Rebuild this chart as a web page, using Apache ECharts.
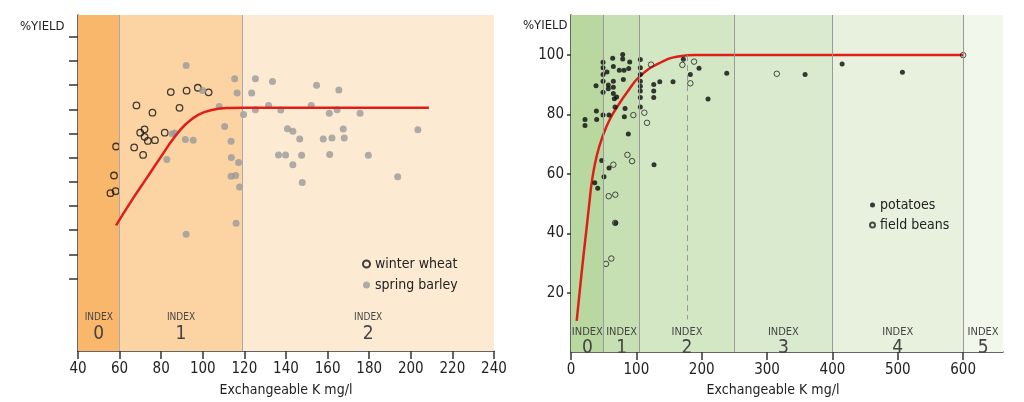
<!DOCTYPE html>
<html>
<head>
<meta charset="utf-8">
<script src="https://cdn.jsdelivr.net/npm/echarts@6/dist/echarts.min.js"></script>
<style>
html,body{margin:0;padding:0;background:#fff;}
#c{width:1024px;height:402px;}
</style>
</head>
<body>
<div id="c"></div>
<script>
// ---------- DATA ----------
// Left chart: cereals
const leftXTicks = [40, 60, 80, 100, 120, 140, 160, 180, 200, 220, 240];
const leftYTicks = [30, 40, 50, 60, 70, 80, 90, 100, 110, 120, 130];
const leftBandEdges = [40, 60, 119, 240];
const leftIndexNames = ['0', '1', '2'];
const winterWheat = [
  [58.3,84.6],[57.3,72.6],[55.6,65.3],[58.1,66.1],[68.1,101.6],[75.8,98.6],[67,84.2],
  [71.3,81.1],[69.9,90.3],[72.0,91.7],[72.0,88.6],[73.6,86.9],[77.0,87.2],[81.7,90.3],
  [84.6,107.1],[88.8,100.6],[92.2,107.7],[97.6,108.9],[102.8,107]
];
const springBarley = [
  [92,118.1],[85.3,89.9],[86.6,90.2],[91.6,87.5],[95.4,87.2],[82.7,79.2],[99.9,107.8],
  [107.9,101.1],[115.3,112.6],[116.5,106.7],[123.5,106.7],[125.3,112.6],[119.6,97.8],
  [110.5,92.9],[113.6,86.8],[113.7,80.1],[117.2,78],[113.6,72.3],[115.8,72.6],[117.7,67.8],
  [125.3,99.8],[92.0,48.3],[116,52.8],
  [133.5,111.5],[154.7,109.9],[165.4,108],[131.6,101.6],[137.5,99.7],[152.1,101.6],
  [160.8,98.4],[164.6,99.8],[175.6,98.4],[140.7,91.9],[143.3,90.9],[146.6,87.7],
  [157.9,87.7],[162.1,88.1],[167.5,91.8],[168.0,88.1],[203.4,91.5],[136.4,81.1],
  [139.8,81.1],[147.5,81],[161,81.3],[179.6,81],[143.3,77.1],[193.7,72.1],[147.8,69.7]
];
const leftCurve = [
  [58.3,52],[66,62.5],[73,71.5],[80,80.5],[86,88],[92,94],[98,97.8],[104.4,99.7],
  [112.4,100.5],[120,100.6],[140,100.6],[170,100.6],[208.7,100.6]
];

// Right chart: potatoes / field beans
const rightXTicks = [0, 100, 200, 300, 400, 500, 600];
const rightYTicks = [20, 40, 60, 80, 100];
const rightBandEdges = [0, 50, 105, 250, 400, 600, 661];
const rightIndexNames = ['0', '1', '2', '3', '4', '5'];
const rightDashed = [[178, 100], [178, 11]];
const potatoes = [
  [21.4,78.3],[21.4,76.3],[38.3,89.7],[38.8,81.2],[39.3,78.3],
  [49,97.6],[49,95.7],[49,93.5],[49,91.2],[55.1,94.3],[49,87.5],[49,79.8],
  [57.1,89.9],[57.1,88.7],[58.2,79.8],
  [63.8,98.9],[64.8,96.2],[64.8,91.2],[64.8,89.2],[64.8,87.1],[66.3,85.3],[69.9,85.9],[67.4,82.5],
  [73.9,94.9],[81.1,94.9],[88.3,95.5],[79.1,100.2],[79.1,98.7],[89.8,97.7],[80.1,91.8],
  [82.7,82],[81.6,79.2],[87.7,73.4],
  [106.1,98.5],[106.1,95.7],[106.1,93.5],[106.1,91.2],[106.1,89.5],[106.1,87.9],[106.1,85.7],[106.1,82.5],
  [126.6,90.1],[126.6,87.9],[126.6,85.7],[135.8,91],[156.1,91],
  [127,63.1],[171.9,98.6],[182.6,93.5],[195.9,95.6],[209.7,85.2],[238.3,93.9],
  [47,64.5],[58.2,62],[50.5,59],[36.3,57],[40.9,55.2],[68.4,43.5],
  [358.2,93.5],[414.8,97],[507.1,94.2]
];
const fieldBeans = [
  [122.5,96.8],[95.4,79.8],[112.2,80.6],[116.3,77.2],[170.4,96.7],[188.3,97.8],[182.6,90.5],
  [86.3,66.4],[93.4,64.3],[64.8,63.1],[57.7,52.5],[67.8,53],[53.6,29.7],[61.7,31.5],
  [314.9,93.7],[600,100],[67.5,43.5]
];
const rightCurve = [
  [8.7,10.5],[16.4,27],[24,42],[28,50],[32,57.5],[39.3,66],[49,73],[59.7,78.5],[72,83],
  [85.3,87.3],[105.6,92.9],[136.2,97.4],[166.8,99.6],[190,100],[250,100],[400,100],[600,100]
];

// ---------- STYLE ----------
const FF = "'Liberation Sans Narrow','DejaVu Sans Condensed','Roboto Condensed',sans-serif";
const leftBandColors = ['#F9B76B', '#FCD4A4', '#FDEAD3'];
const rightBandColors = ['#B8D8A0', '#C7E0B3', '#D3E7C5', '#DAEACE', '#E7F1DD', '#F2F7EC'];
const axisColor = '#333';
const textColor = '#222';

function bandAreas(edges, colors) {
  const out = [];
  for (let i = 0; i < edges.length - 1; i++) {
    out.push([{ xAxis: edges[i], itemStyle: { color: colors[i] } }, { xAxis: edges[i + 1] }]);
  }
  return out;
}
function dividers(edges) {
  return edges.slice(1, -1).map(v => ({ xAxis: v }));
}
function indexPoints(edges, names, y) {
  return names.map((n, i) => [(edges[i] + edges[i + 1]) / 2, y, n]);
}
const idxRich = (small, smallLH, big) => ({
  a: { fontSize: small, color: '#444', fontFamily: FF, lineHeight: smallLH, align: 'center' },
  b: { fontSize: big, color: '#444', fontFamily: FF, lineHeight: big, align: 'center' }
});

const chart = echarts.init(document.getElementById('c'), null, { renderer: 'canvas' });
const option = {
  animation: false,
  textStyle: { fontFamily: FF },
  title: [
    { text: '%YIELD', left: 20, top: 20, padding: 0, textStyle: { fontSize: 13, fontWeight: 'normal', color: textColor, fontFamily: FF } },
    { text: '%YIELD', left: 523, top: 19, padding: 0, textStyle: { fontSize: 13, fontWeight: 'normal', color: textColor, fontFamily: FF } }
  ],
  legend: [
    {
      left: 357, top: 251, orient: 'vertical', itemWidth: 7, itemHeight: 7, itemGap: 5,
      data: ['winter wheat', 'spring barley'],
      textStyle: { fontSize: 14, color: textColor, fontFamily: FF, lineHeight: 16 }
    },
    {
      left: 864, top: 192, orient: 'vertical', itemWidth: 5, itemHeight: 5, itemGap: 4,
      data: ['potatoes', 'field beans'],
      textStyle: { fontSize: 14, color: textColor, fontFamily: FF, lineHeight: 16 }
    }
  ],
  grid: [
    { left: 78, right: 530, top: 15, bottom: 49 },
    { left: 571, right: 21, top: 15, bottom: 48 }
  ],
  xAxis: [
    {
      gridIndex: 0, type: 'value', min: 40, max: 240, interval: 20,
      axisLine: { show: true, lineStyle: { color: axisColor, width: 1.5 } },
      axisTick: { show: true, length: 8, customValues: leftXTicks, lineStyle: { color: axisColor, width: 1.5 } },
      axisLabel: { fontSize: 15, color: textColor, margin: 11, customValues: leftXTicks },
      splitLine: { show: false },
      name: 'Exchangeable K mg/l', nameLocation: 'middle', nameGap: 32,
      nameTextStyle: { fontSize: 14, color: textColor }
    },
    {
      gridIndex: 1, type: 'value', min: 0, max: 661, interval: 100,
      axisLine: { show: true, lineStyle: { color: axisColor, width: 1.5 } },
      axisTick: { show: true, length: 8, customValues: rightXTicks, lineStyle: { color: axisColor, width: 1.5 } },
      axisLabel: { fontSize: 15, color: textColor, margin: 11, customValues: rightXTicks },
      splitLine: { show: false },
      name: 'Exchangeable K mg/l', nameLocation: 'middle', nameGap: 30,
      nameTextStyle: { fontSize: 14, color: textColor, padding: [0, 28, 0, 0] }
    }
  ],
  yAxis: [
    {
      gridIndex: 0, type: 'value', min: 0, max: 139, interval: 10,
      axisLine: { show: true, lineStyle: { color: axisColor, width: 1.5 } },
      axisTick: { show: true, length: 9, customValues: leftYTicks, lineStyle: { color: axisColor, width: 1.5 } },
      axisLabel: { show: false },
      splitLine: { show: false }
    },
    {
      gridIndex: 1, type: 'value', min: 0, max: 113.5, interval: 20,
      axisLine: { show: true, lineStyle: { color: axisColor, width: 1.5 } },
      axisTick: { show: true, length: 4, customValues: rightYTicks, lineStyle: { color: axisColor, width: 1.5 } },
      axisLabel: { fontSize: 15, color: textColor, margin: 7, customValues: rightYTicks },
      splitLine: { show: false }
    }
  ],
  series: [
    // left bands
    {
      type: 'line', xAxisIndex: 0, yAxisIndex: 0, z: 1, silent: true,
      data: [[leftBandEdges[0], 0]], symbol: 'none', lineStyle: { opacity: 0 },
      markArea: { silent: true, data: bandAreas(leftBandEdges, leftBandColors) },
      markLine: {
        silent: true, symbol: ['none', 'none'], label: { show: false },
        lineStyle: { color: '#aaa', type: 'solid', width: 1 },
        data: dividers(leftBandEdges)
      }
    },
    // right bands
    {
      type: 'line', xAxisIndex: 1, yAxisIndex: 1, z: 1, silent: true,
      data: [[rightBandEdges[0], 0]], symbol: 'none', lineStyle: { opacity: 0 },
      markArea: { silent: true, data: bandAreas(rightBandEdges, rightBandColors) },
      markLine: {
        silent: true, symbol: ['none', 'none'], label: { show: false },
        lineStyle: { color: '#999', type: 'solid', width: 1 },
        data: dividers(rightBandEdges).concat([[
          { coord: rightDashed[0], lineStyle: { type: [6, 4], color: '#999', width: 1 } },
          { coord: rightDashed[1] }
        ]])
      }
    },
    // index labels
    {
      type: 'scatter', xAxisIndex: 0, yAxisIndex: 0, z: 2, silent: true,
      symbolSize: 1, itemStyle: { color: 'rgba(0,0,0,0)' },
      data: indexPoints(leftBandEdges, leftIndexNames, 9.9),
      label: {
        show: true, position: 'inside', opacity: 1,
        formatter: p => '{a|INDEX}\n{b|' + p.value[2] + '}',
        rich: idxRich(10, 13, 19)
      }
    },
    {
      type: 'scatter', xAxisIndex: 1, yAxisIndex: 1, z: 2, silent: true,
      symbolSize: 1, itemStyle: { color: 'rgba(0,0,0,0)' },
      data: indexPoints(rightBandEdges, rightIndexNames, 3.4),
      label: {
        show: true, position: 'inside', opacity: 1,
        formatter: p => '{a|INDEX}\n{b|' + p.value[2] + '}',
        rich: idxRich(11, 12, 19)
      }
    },
    // left data
    {
      name: 'winter wheat', type: 'scatter', xAxisIndex: 0, yAxisIndex: 0, z: 4,
      symbol: 'circle', symbolSize: 6.5,
      itemStyle: { color: 'rgba(0,0,0,0)', borderColor: '#111', borderWidth: 1.3 },
      data: winterWheat
    },
    {
      name: 'spring barley', type: 'scatter', xAxisIndex: 0, yAxisIndex: 0, z: 4,
      symbol: 'circle', symbolSize: 7,
      itemStyle: { color: '#9a9a9a' },
      data: springBarley
    },
    {
      type: 'line', xAxisIndex: 0, yAxisIndex: 0, z: 5, silent: true,
      data: leftCurve, symbol: 'none', smooth: 0.5,
      lineStyle: { color: '#DD1F1A', width: 2.5 }
    },
    // right data
    {
      type: 'line', xAxisIndex: 1, yAxisIndex: 1, z: 3, silent: true,
      data: rightCurve, symbol: 'none', smooth: 0.5,
      lineStyle: { color: '#DD1F1A', width: 2.5 }
    },
    {
      name: 'potatoes', type: 'scatter', xAxisIndex: 1, yAxisIndex: 1, z: 4,
      symbol: 'circle', symbolSize: 5,
      itemStyle: { color: '#0a0a0a' },
      data: potatoes
    },
    {
      name: 'field beans', type: 'scatter', xAxisIndex: 1, yAxisIndex: 1, z: 4,
      symbol: 'circle', symbolSize: 5.5,
      itemStyle: { color: 'rgba(0,0,0,0)', borderColor: '#222', borderWidth: 1 },
      data: fieldBeans
    }
  ]
};
chart.setOption(option);
</script>
</body>
</html>
